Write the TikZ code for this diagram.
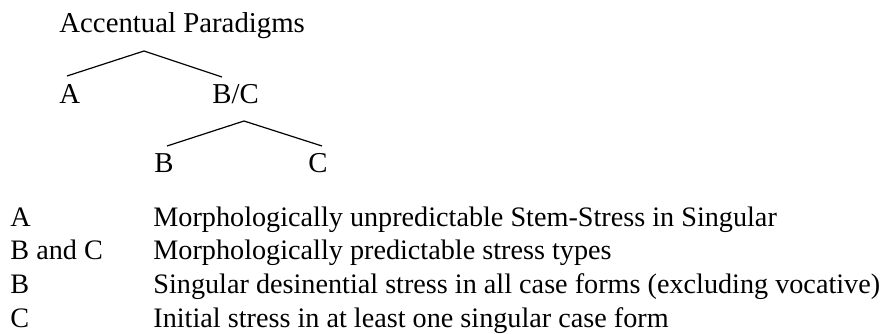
\documentclass[tikz,border=0pt]{standalone}
\usepackage{fontspec}
\setmainfont{Liberation Serif}
\usepackage{tikz}
\usetikzlibrary{positioning}

\begin{document}
\begin{tikzpicture}[x=0.5pt,y=-0.5pt,
lbl/.style={anchor=base west,inner sep=0pt,font=\fontsize{14.4}{17}\selectfont},
key/.style={anchor=base west,inner sep=0pt,font=\fontsize{14.1}{17}\selectfont},
branch/.style={line width=0.6pt}]
\useasboundingbox (0,0) rectangle (889,333);
% tree
\node[lbl] at (59,32)(root){Accentual Paradigms};
\node[lbl] at (59,103)(pA){A};
\node[lbl] at (212,103)(pBC){B/C};
\node[lbl] at (154,172)(pB){B};
\node[lbl] at (308,172)(pC){C};
\coordinate (rootfork) at (144,51);
\coordinate (Aup) at (67,76);
\coordinate (BCup) at (222,77);
\coordinate (BCfork) at (244,121);
\coordinate (Bup) at (167,146);
\coordinate (Cup) at (322,146);
\draw[branch](Aup)--(rootfork)--(BCup);
\draw[branch](Bup)--(BCfork)--(Cup);
% key
\node[key] at (10,226)(kA){A};
\node[key] at (153,226)(dA){Morphologically unpredictable Stem-Stress in Singular};
\node[key] at (10,259.7)(kBC){B and C};
\node[key] at (153,259.7)(dBC){Morphologically predictable stress types};
\node[key] at (10,293.3)(kB){B};
\node[key] at (153,293.3)(dB){Singular desinential stress in all case forms (excluding vocative)};
\node[key] at (10,327)(kC){C};
\node[key] at (153,327)(dC){Initial stress in at least one singular case form};
\end{tikzpicture}
\end{document}
